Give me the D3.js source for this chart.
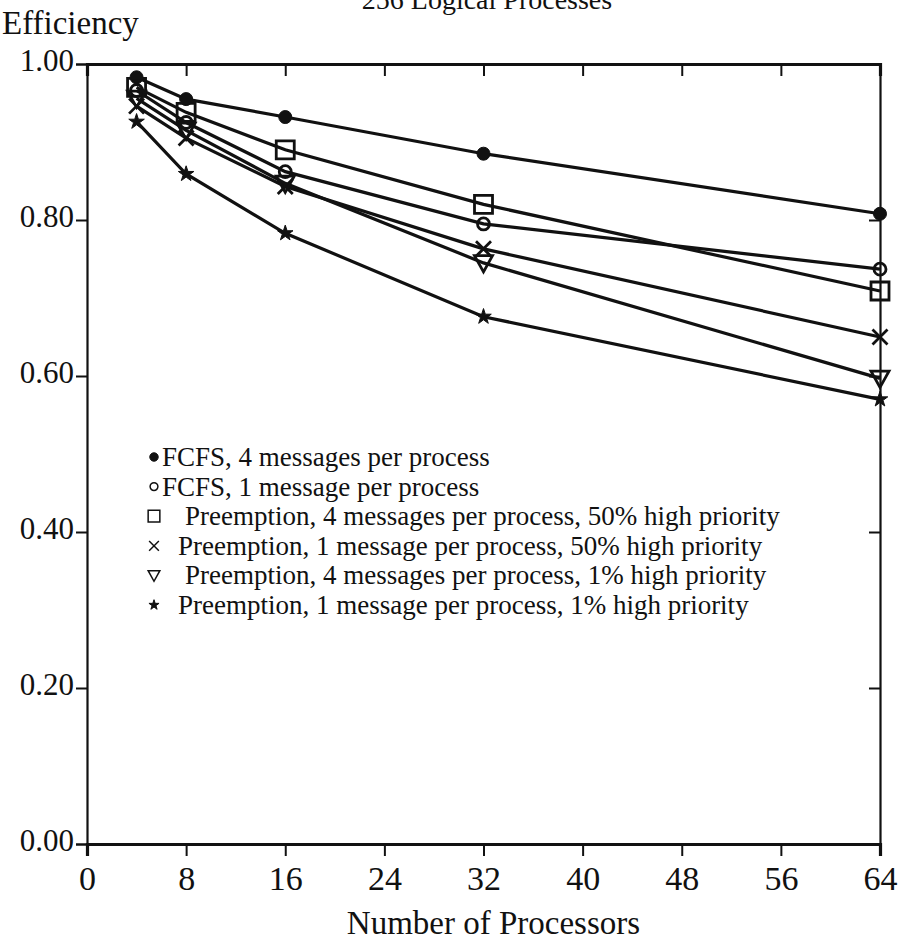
<!DOCTYPE html>
<html>
<head>
<meta charset="utf-8">
<script src="https://cdn.jsdelivr.net/npm/d3@7"></script>
<style>
  body { margin: 0; background: #fff; }
  text { font-family: "Liberation Serif", "Times New Roman", serif; fill: #111; }
</style>
</head>
<body>
<script>
// Efficiency vs number of processors, 256 logical processes.
// Values.

var processors = [4, 8, 16, 32, 64];

var fcfs4   = [0.983, 0.955, 0.932, 0.885, 0.808];
var fcfs1   = [0.966, 0.925, 0.862, 0.795, 0.737];
var pre4hi  = [0.970, 0.938, 0.890, 0.820, 0.709];
var pre1hi  = [0.946, 0.905, 0.843, 0.763, 0.650];
var pre4lo  = [0.956, 0.915, 0.847, 0.745, 0.597];
var pre1lo  = [0.926, 0.859, 0.783, 0.676, 0.570];

var seriesLabels = [
  'FCFS, 4 messages per process',
  'FCFS, 1 message per process',
  'Preemption, 4 messages per process, 50% high priority',
  'Preemption, 1 message per process, 50% high priority',
  'Preemption, 4 messages per process, 1% high priority',
  'Preemption, 1 message per process, 1% high priority'
];

var xTicks = [0, 8, 16, 24, 32, 40, 48, 56, 64];
var yTicks = [0, 0.2, 0.4, 0.6, 0.8, 1.0];

var series = [
  { values: fcfs4,  marker: 'dot' },
  { values: fcfs1,  marker: 'ring' },
  { values: pre4hi, marker: 'square' },
  { values: pre1hi, marker: 'cross' },
  { values: pre4lo, marker: 'triangle' },
  { values: pre1lo, marker: 'star' }
];

var outerWidth = 899,
    outerHeight = 949,
    margin = { top: 64, right: 19, bottom: 105, left: 87 },
    innerRight = outerWidth - margin.right,
    innerBottom = outerHeight - margin.bottom;

var svg = d3.select('body').append('svg')
  .attr('width', outerWidth)
  .attr('height', outerHeight);

var x = d3.scaleLinear().domain([0, 64]).range([margin.left, innerRight]);
var y = d3.scaleLinear().domain([0, 1]).range([innerBottom, margin.top]);

// Marker shapes, s = scale factor (1 in the plot, smaller in the legend).
function markerPath(kind, s) {
  var p = d3.path();
  if (kind === 'dot') {
    var r = 6.5 * s;
    p.moveTo(r, 0); p.arc(0, 0, r, 0, 2 * Math.PI);
  } else if (kind === 'ring') {
    var rr = 6 * s;
    p.moveTo(rr, 0); p.arc(0, 0, rr, 0, 2 * Math.PI);
  } else if (kind === 'square') {
    var h = 9 * s;
    p.rect(-h, -h, 2 * h, 2 * h);
  } else if (kind === 'cross') {
    var c = 7.5 * s;
    p.moveTo(-c, -c); p.lineTo(c, c);
    p.moveTo(c, -c); p.lineTo(-c, c);
  } else if (kind === 'triangle') {
    var t = 9 * s;
    p.moveTo(-t, -t * 0.8); p.lineTo(t, -t * 0.8); p.lineTo(0, t * 1.0); p.closePath();
  } else if (kind === 'star') {
    return d3.symbol(d3.symbolStar, 75 * s * s)();
  }
  return p.toString();
}

function drawMarker(g, kind, s, w) {
  var filled = kind === 'dot' || kind === 'star';
  g.append('path')
    .attr('d', markerPath(kind, s))
    .attr('fill', filled ? '#111' : 'none')
    .attr('stroke', '#111')
    .attr('stroke-width', filled ? 1 : w);
}

// Axes
var axisStyle = function (g, w) {
  g.select('.domain').attr('stroke', '#111').attr('stroke-width', w);
  g.selectAll('.tick line').attr('stroke', '#111').attr('stroke-width', 2);
};

svg.append('g')
  .attr('transform', 'translate(' + margin.left + ',0)')
  .call(d3.axisLeft(y).tickValues(yTicks).tickSize(11).tickPadding(2)
    .tickFormat(d3.format('.2f')))
  .call(axisStyle, 2.2)
  .call(function (g) {
    g.selectAll('.tick text')
      .attr('font-family', '"Liberation Serif", serif')
      .attr('font-size', 31)
      .attr('fill', '#111')
      .attr('dy', '0.2em');
  });

svg.append('g')
  .attr('transform', 'translate(' + innerRight + ',0)')
  .call(d3.axisRight(y).tickValues(yTicks.slice(1, 5)).tickSize(-11).tickFormat(''))
  .call(axisStyle, 2.2);

svg.append('g')
  .attr('transform', 'translate(0,' + margin.top + ')')
  .call(d3.axisTop(x).tickValues(xTicks.slice(1, 8)).tickSize(-12).tickFormat(''))
  .call(axisStyle, 3.2);

svg.append('g')
  .attr('transform', 'translate(0,' + innerBottom + ')')
  .call(d3.axisBottom(x).tickValues(xTicks).tickSize(12).tickPadding(10))
  .call(axisStyle, 3.2)
  .call(function (g) {
    g.selectAll('.tick text')
      .attr('font-family', '"Liberation Serif", serif')
      .attr('font-size', 34)
      .attr('fill', '#111');
  });

// Lines and markers
var line = d3.line()
  .x(function (d, i) { return x(processors[i]); })
  .y(function (d) { return y(d); });

series.forEach(function (s) {
  svg.append('path')
    .attr('d', line(s.values))
    .attr('fill', 'none')
    .attr('stroke', '#111')
    .attr('stroke-width', 3.2);

  s.values.forEach(function (v, i) {
    var g = svg.append('g')
      .attr('transform', 'translate(' + x(processors[i]) + ',' + y(v) + ')');
    drawMarker(g, s.marker, 1, 2.8);
  });
});

// Legend
var legendTextX = [162, 162, 185, 178, 185, 178];
var legend = svg.append('g');
series.forEach(function (s, i) {
  var yy = 466 + i * 29.6;
  var g = legend.append('g').attr('transform', 'translate(154,' + (yy - 9) + ')');
  drawMarker(g, s.marker, 0.65, 1.5);
  legend.append('text')
    .attr('x', legendTextX[i])
    .attr('y', yy)
    .attr('font-size', 27)
    .text(seriesLabels[i]);
});

// Titles
svg.append('text')
  .attr('x', 487).attr('y', 9)
  .attr('text-anchor', 'middle')
  .attr('font-size', 28)
  .text('256 Logical Processes');

svg.append('text')
  .attr('x', 2).attr('y', 34)
  .attr('font-size', 33)
  .text('Efficiency');

svg.append('text')
  .attr('x', (margin.left + innerRight) / 2 + 10).attr('y', 934)
  .attr('text-anchor', 'middle')
  .attr('font-size', 33)
  .text('Number of Processors');
</script>
</body>
</html>
